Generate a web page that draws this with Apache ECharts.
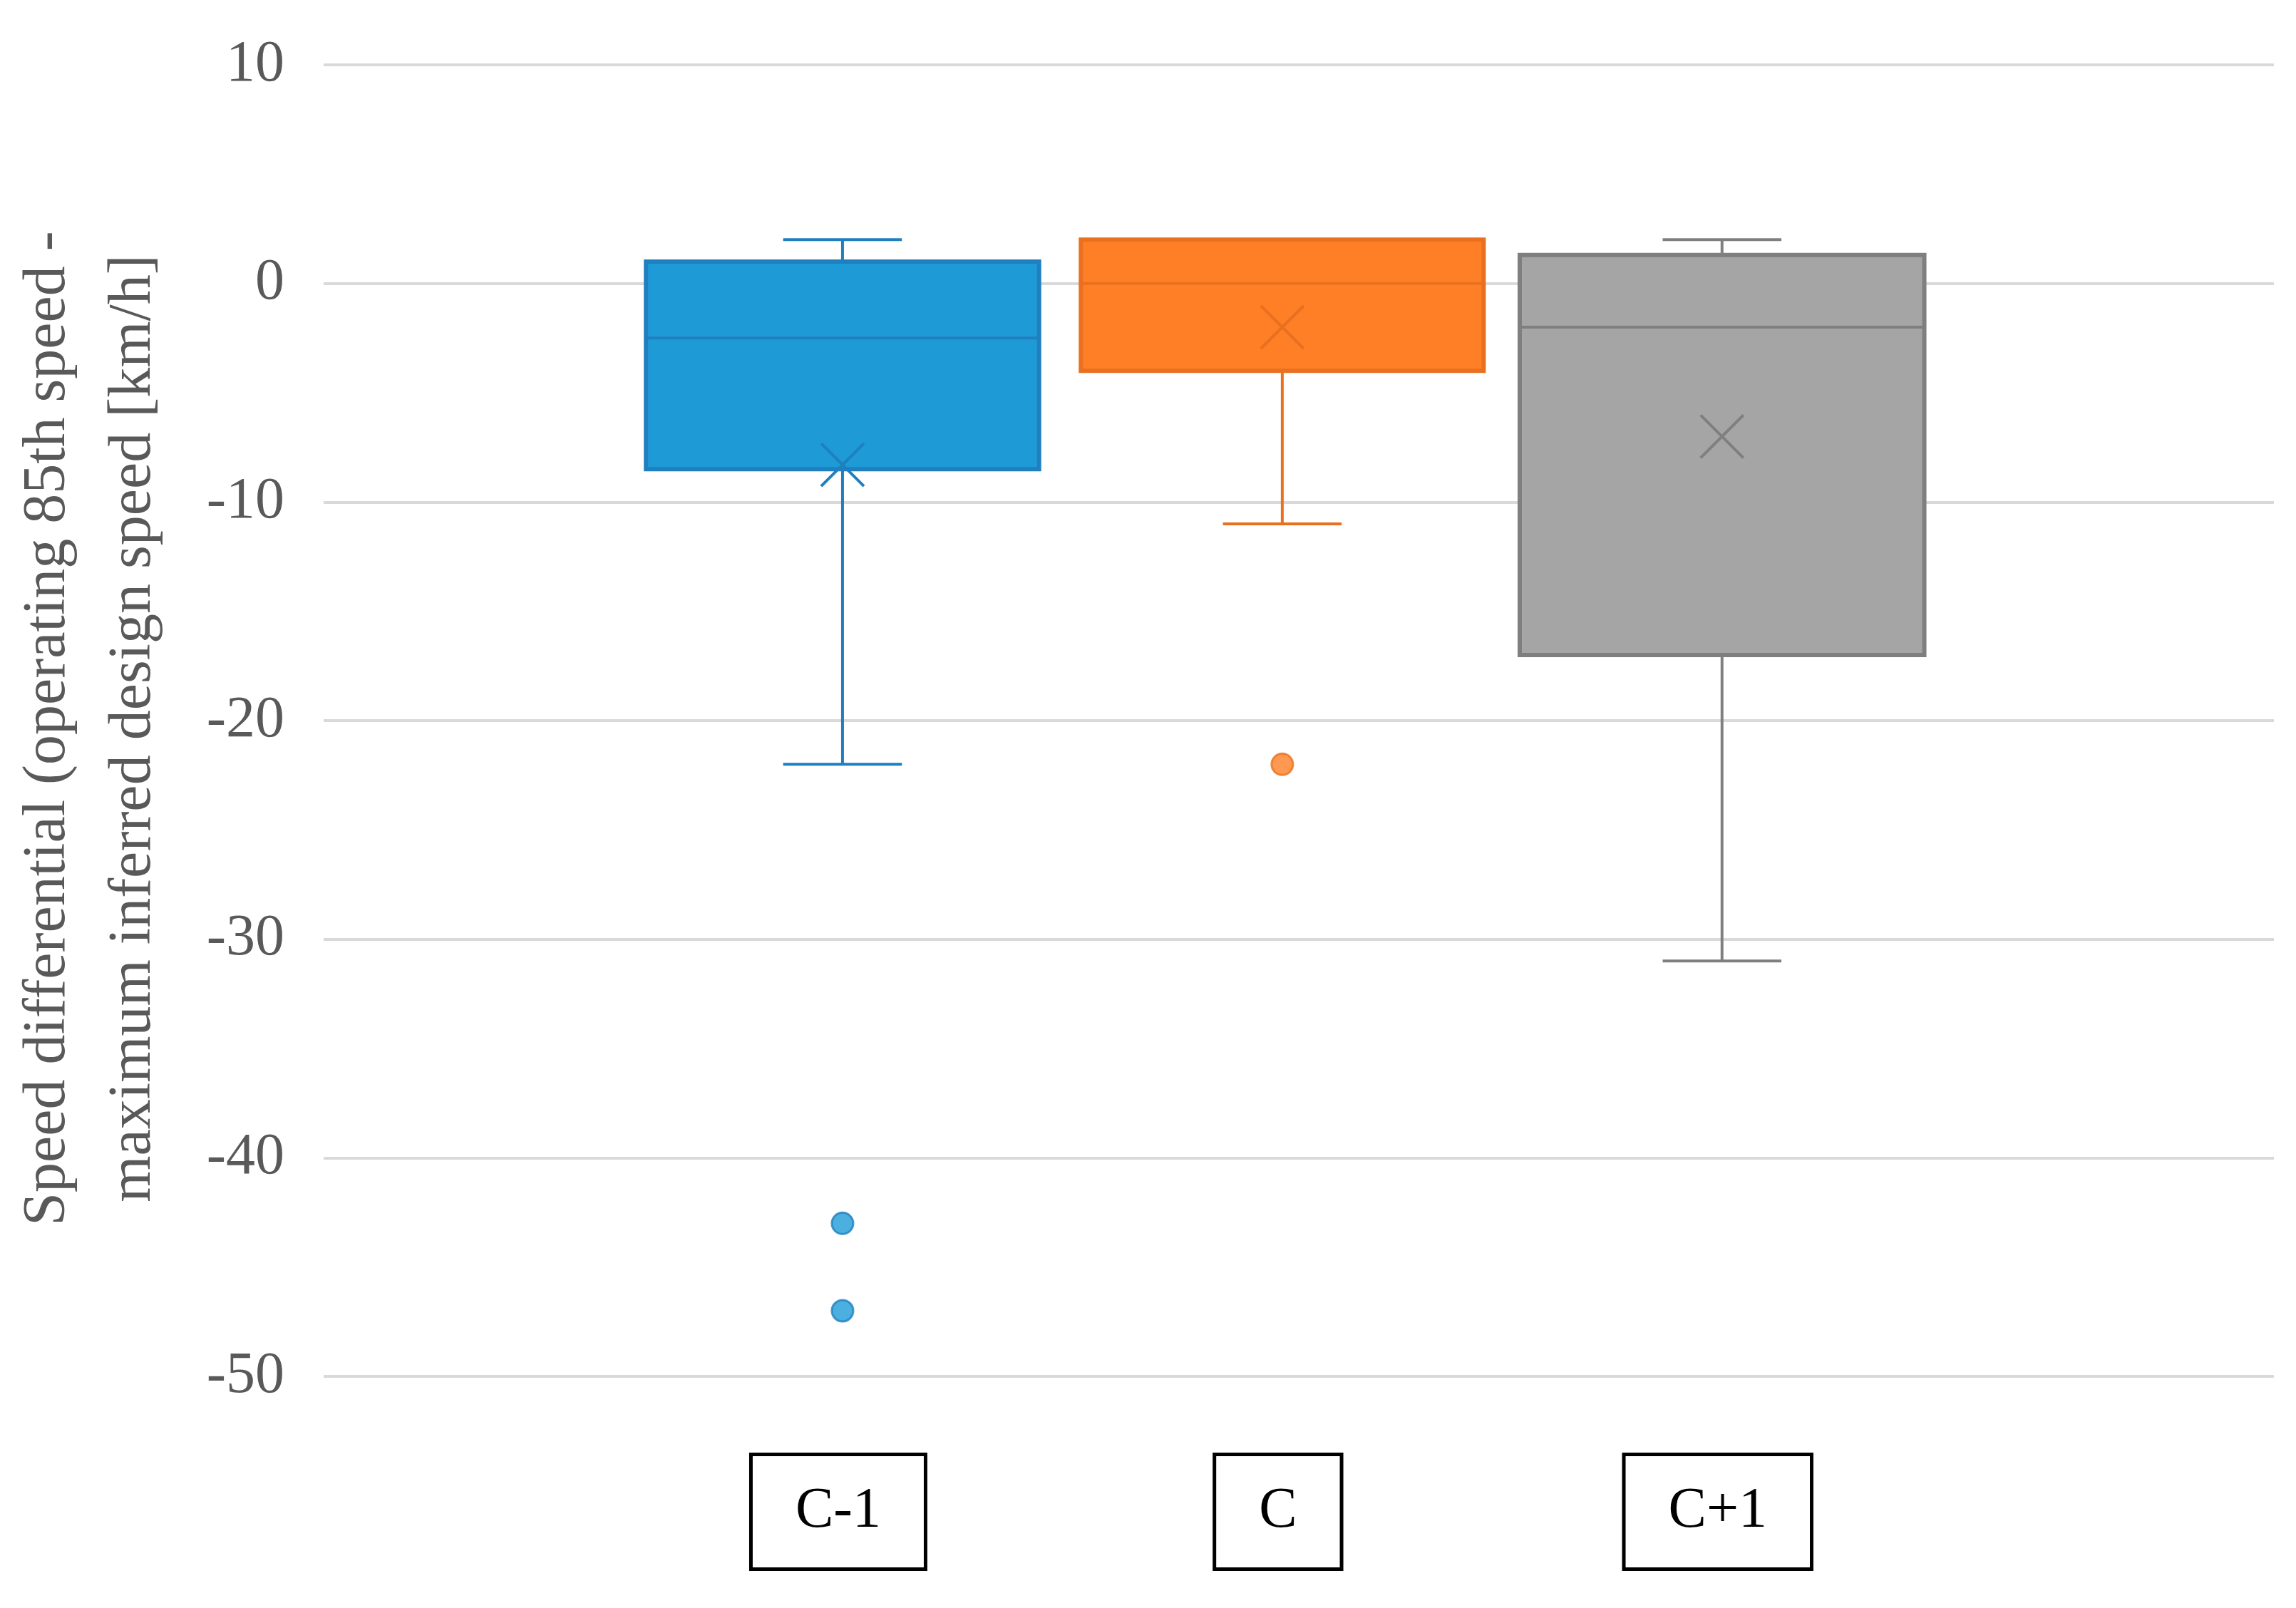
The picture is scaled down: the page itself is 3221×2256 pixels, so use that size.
<!DOCTYPE html>
<html>
<head>
<meta charset="utf-8">
<script src="https://cdn.jsdelivr.net/npm/echarts@6/dist/echarts.min.js"></script>
<style>html,body{margin:0;padding:0;background:#fff}#chart{width:3221px;height:2256px}</style>
</head>
<body>
<div id="chart"></div>
<script>
const categories = ["C-1", "C", "C+1"];
const whiskerLow = [-22, -11, -31];
const q1 = [-8.5, -4, -17];
const median = [-2.5, 0, -2];
const q3 = [1, 2, 1.3];
const whiskerHigh = [2, 2, 2];
const means = [-8.3, -2, -7];
const outliers = [[0, -43], [0, -47], [1, -22]];
const yTicks = [10, 0, -10, -20, -30, -40, -50];

const fills = ["#1E9BD7", "#FF7F27", "#A5A5A5"];
const strokes = ["#1F7FBF", "#E8701F", "#7F7F7F"];
const boxHalf = [0.447, 0.458, 0.46];

const boxData = categories.map((c, i) => [i, whiskerLow[i], q1[i], median[i], q3[i], whiskerHigh[i], means[i]]);

const chart = echarts.init(document.getElementById('chart'));

function renderBox(params, api) {
  const i = api.value(0);
  const st = strokes[i];
  const p = v => api.coord([i, v]);
  const hw = api.size([boxHalf[i], 0])[0];
  const cap = api.size([0.135, 0])[0];
  const cx = p(0)[0];
  const yLow = p(api.value(1))[1], yQ1 = p(api.value(2))[1], yMed = p(api.value(3))[1];
  const yQ3 = p(api.value(4))[1], yHigh = p(api.value(5))[1], yMean = p(api.value(6))[1];
  const ls = { stroke: st, lineWidth: 4 };
  const m = 30;
  const bottom = api.coord([i, -50])[1];
  return {
    type: 'group',
    children: [
      { type: 'line', shape: { x1: cx, y1: yHigh, x2: cx, y2: yQ3 }, style: ls },
      { type: 'line', shape: { x1: cx - cap, y1: yHigh, x2: cx + cap, y2: yHigh }, style: ls },
      { type: 'line', shape: { x1: cx, y1: yQ1, x2: cx, y2: yLow }, style: ls },
      { type: 'line', shape: { x1: cx - cap, y1: yLow, x2: cx + cap, y2: yLow }, style: ls },
      { type: 'rect', shape: { x: cx - hw, y: yQ3, width: hw * 2, height: yQ1 - yQ3 }, style: { fill: fills[i], stroke: st, lineWidth: 6 } },
      { type: 'line', shape: { x1: cx - hw, y1: yMed, x2: cx + hw, y2: yMed }, style: ls },
      { type: 'line', shape: { x1: cx - m, y1: yMean - m, x2: cx + m, y2: yMean + m }, style: ls },
      { type: 'line', shape: { x1: cx - m, y1: yMean + m, x2: cx + m, y2: yMean - m }, style: ls },
      { type: 'text', x: cx - 6, y: bottom + 190, style: {
          text: categories[i], fill: '#000', font: '80px "Liberation Serif"',
          align: 'center', verticalAlign: 'middle',
          borderColor: '#000', borderWidth: 5, padding: [40, 60, 36, 60], backgroundColor: '#fff'
        } }
    ]
  };
}

chart.setOption({
  animation: false,
  backgroundColor: '#fff',
  grid: { left: 454, right: 31, top: 91, bottom: 325 },
  xAxis: {
    type: 'value', min: -1.18, max: 3.255,
    axisLine: { show: false }, axisTick: { show: false }, axisLabel: { show: false }, splitLine: { show: false }
  },
  yAxis: {
    type: 'value', min: -50, max: 10, interval: 10,
    axisLine: { show: false }, axisTick: { show: false },
    axisLabel: { fontFamily: 'Liberation Serif', fontSize: 82, color: '#595959', margin: 55,
      formatter: v => yTicks.includes(v) ? String(v) : '' },
    splitLine: { lineStyle: { color: '#D9D9D9', width: 4 } }
  },
  graphic: [{
    type: 'text', x: 128, y: 1022, rotation: Math.PI / 2,
    style: {
      text: 'Speed differential (operating 85th speed -\nmaximum inferred design speed [km/h]',
      font: '84px "Liberation Serif"', fill: '#595959', align: 'center', verticalAlign: 'middle', lineHeight: 120
    }
  }],
  series: [
    { type: 'custom', renderItem: renderBox, data: boxData, clip: false, z: 2 },
    { type: 'scatter', symbolSize: 30, z: 3,
      data: outliers.map(o => ({ value: o, itemStyle: { color: fills[o[0]], borderColor: strokes[o[0]], borderWidth: 3 } })) }
  ]
});
</script>
</body>
</html>
